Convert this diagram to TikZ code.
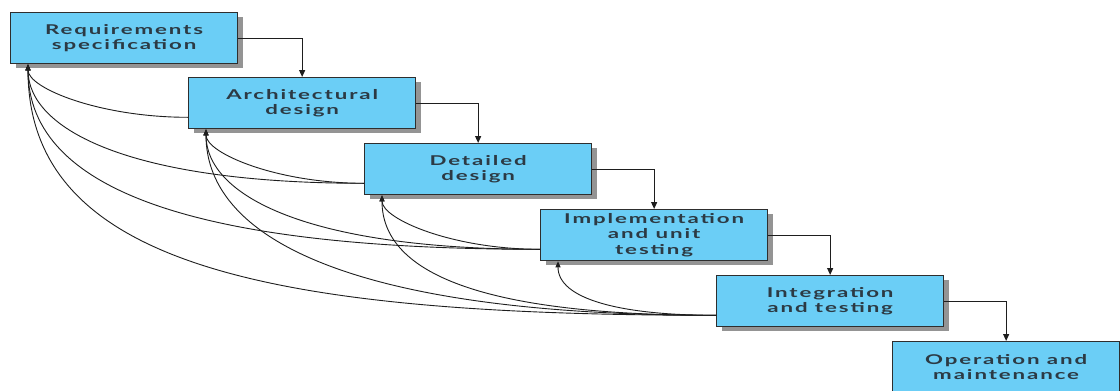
\documentclass[tikz,border=0pt]{standalone}
\usepackage{fontspec}
\usetikzlibrary{arrows.meta,shadows,calc}
\newfontfamily\stagefont[FakeStretch=1.65,LetterSpace=14]{Lato}
\definecolor{stagefill}{HTML}{6BCEF6}
\definecolor{stageline}{HTML}{2E2E2E}
\definecolor{stagetext}{HTML}{2C3A44}
\definecolor{linkcol}{HTML}{1E1E1E}
\begin{document}
\begin{tikzpicture}[x=1pt,y=-1pt,
  stage/.style={draw=stageline,line width=1.3pt,fill=stagefill,
    minimum width=227pt,minimum height=51pt,anchor=north west,
    inner sep=0pt,align=center,text=stagetext,
    font=\stagefont\bfseries\fontsize{13.5pt}{15.5pt}\selectfont,
    drop shadow={shadow xshift=5pt,shadow yshift=-4pt,fill=black!42,opacity=1}},
  flow/.style={draw=linkcol,line width=1.1pt,-{Triangle[length=7pt,width=6pt]}},
  back/.style={draw=linkcol,line width=0.9pt,-{Triangle[length=6pt,width=5pt]}}]
\clip (0,0) rectangle (1120,391);
\fill[white] (0,0) rectangle (1120,391);

% the six stages of the cascade
\node[stage] (req)  at (10,12)  {Requirements\\specification};
\node[stage] (arch) at (188,77) {Architectural\\design};
\node[stage] (det)  at (364,143){Detailed\\design};
\node[stage] (impl) at (540,209){Implementation\\and unit\\testing};
\node[stage] (integ)at (716,275){Integration\\and testing};
\node[stage] (ops)  at (892,341){Operation and\\maintenance};

% forward flow: right side of one stage to the top of the next
\draw[flow] (req.east)   -| (arch.north);
\draw[flow] (arch.east)  -| (det.north);
\draw[flow] (det.east)   -| (impl.north);
\draw[flow] (impl.east)  -| (integ.north);
\draw[flow] (integ.east) -| (ops.north);

% feedback sources (left side) and targets (bottom left)
\foreach \n in {arch,det,impl,integ}
  \coordinate (\n-out) at ($(\n.south west)+(0,-12)$);
\foreach \n in {req,arch,det,impl}
  \coordinate (\n-in) at ($(\n.south west)+(18,0)$);

% feedback loops to every earlier stage: leave to the left, rise steeply
\draw[back] (arch-out)  .. controls +(-88,0)  and +(0,24)  .. (req-in);

\draw[back] (det-out)   .. controls +(-235,0) and +(0,65)  .. (req-in);
\draw[back] (det-out)   .. controls +(-87,0)  and +(0,24)  .. (arch-in);

\draw[back] (impl-out)  .. controls +(-333,0) and +(0,130) .. (req-in);
\draw[back] (impl-out)  .. controls +(-234,0) and +(0,66)  .. (arch-in);
\draw[back] (impl-out)  .. controls +(-87,0)  and +(0,24)  .. (det-in);

\draw[back] (integ-out) .. controls +(-447,0) and +(0,201) .. (req-in);
\draw[back] (integ-out) .. controls +(-357,0) and +(0,112) .. (arch-in);
\draw[back] (integ-out) .. controls +(-234,0) and +(0,78)  .. (det-in);
\draw[back] (integ-out) .. controls +(-95,0)  and +(0,38)  .. (impl-in);
\end{tikzpicture}
\end{document}
